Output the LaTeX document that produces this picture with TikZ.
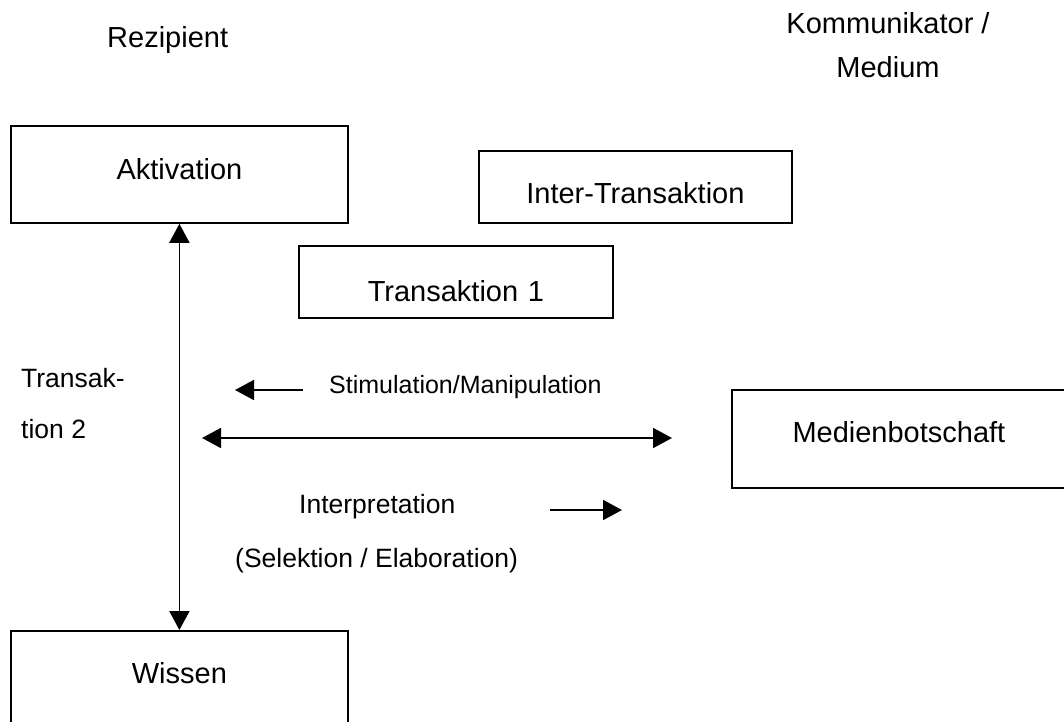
\documentclass[tikz,border=0pt]{standalone}
\usepackage{fontspec}
\setmainfont{Liberation Sans}
\usetikzlibrary{arrows.meta}
\tikzset{
  box/.style={draw, line width=1.8pt, inner sep=0pt, anchor=north west, align=center, font=\fontsize{29}{35}\selectfont},
  lbl/.style={inner sep=0pt, anchor=base west, font=\fontsize{26.5}{32}\selectfont},
  conn/.style={line width=1.8pt, {Triangle[length=19pt,width=20pt]}-{Triangle[length=19pt,width=20pt]}},
  oneway/.style={line width=1.8pt, -{Triangle[length=19pt,width=20pt]}}
}
\begin{document}
\begin{tikzpicture}[x=1pt,y=-1pt]
\useasboundingbox (0,0) rectangle (1064,721);
% boxes
\node[box, text width=337pt, text height=54pt, text depth=43pt] (akt) at (10,125) {Aktivation};
\node[box, text width=313pt, text height=53pt, text depth=19pt] (inter) at (478,150) {Inter-Transaktion};
\node[box, text width=314pt, text height=56pt, text depth=16pt] (ta1) at (298,245) {Transaktion 1};
\node[box, text width=334pt, text height=53pt, text depth=45pt] (med) at (731,389) {Medienbotschaft};
\node[box, text width=337pt, text height=53pt, text depth=45pt] (wis) at (10,630) {Wissen};
% labels
\node[lbl, font=\fontsize{29}{35}\selectfont] (rez) at (107,47) {Rezipient};
\node[inner sep=0pt, anchor=base, align=center, font=\fontsize{29}{44}\selectfont] (kom) at (888,77) {Kommunikator /\\Medium};
\node[lbl, align=left, font=\fontsize{26.5}{51}\selectfont] (ta2) at (21,438) {Transak-\\tion 2};
\node[lbl, font=\fontsize{25}{30}\selectfont] (stim) at (329,393) {Stimulation/Manipulation};
\node[lbl] (interp) at (299,513) {Interpretation};
\node[lbl] (sel) at (235,567) {(Selektion / Elaboration)};
% connectors
\draw[conn] (akt.south) -- (wis.north);
\coordinate (hl) at (202,438);
\coordinate (hr) at (672,438);
\draw[conn] (hl) -- (hr);
\coordinate (s1) at (303,390);
\coordinate (s2) at (235,390);
\draw[oneway] (s1) -- (s2);
\coordinate (i1) at (550,510);
\coordinate (i2) at (622,510);
\draw[oneway] (i1) -- (i2);
\end{tikzpicture}
\end{document}
